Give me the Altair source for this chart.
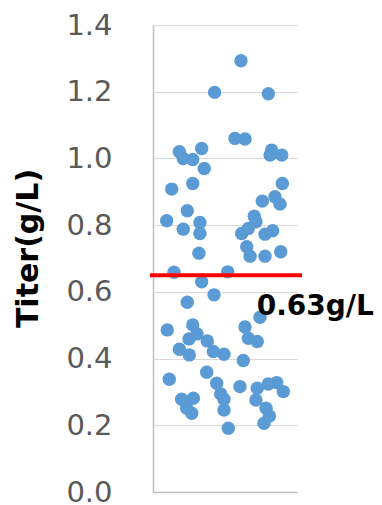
import altair as alt
import pandas as pd

# jitter position (0-1 across the column) and titer values (g/L)
jitter = [0.611, 0.428, 0.801, 0.569, 0.639, 0.183, 0.210, 0.276, 0.338, 0.356,
          0.824, 0.813, 0.894, 0.130, 0.276, 0.898, 0.238, 0.095, 0.210, 0.326,
          0.326, 0.759, 0.847, 0.882, 0.703, 0.715, 0.662, 0.616, 0.778, 0.831,
          0.651, 0.674, 0.778, 0.887, 0.319, 0.146, 0.519, 0.338, 0.424, 0.238,
          0.743, 0.099, 0.276, 0.639, 0.250, 0.306, 0.377, 0.183, 0.252, 0.419,
          0.493, 0.662, 0.724, 0.627, 0.113, 0.373, 0.442, 0.470, 0.493, 0.493,
          0.604, 0.199, 0.280, 0.234, 0.269, 0.523, 0.724, 0.801, 0.859, 0.905,
          0.715, 0.785, 0.808, 0.771]
titer = [1.293, 1.198, 1.194, 1.060, 1.058, 1.020, 1.000, 0.997, 1.030, 0.970,
         1.025, 1.010, 1.010, 0.908, 0.925, 0.925, 0.843, 0.813, 0.788, 0.808,
         0.775, 0.872, 0.885, 0.863, 0.827, 0.810, 0.790, 0.775, 0.773, 0.783,
         0.735, 0.707, 0.707, 0.720, 0.716, 0.659, 0.660, 0.630, 0.591, 0.569,
         0.524, 0.486, 0.501, 0.495, 0.459, 0.474, 0.453, 0.428, 0.411, 0.421,
         0.413, 0.461, 0.451, 0.394, 0.338, 0.359, 0.326, 0.294, 0.278, 0.246,
         0.316, 0.278, 0.281, 0.251, 0.236, 0.191, 0.311, 0.324, 0.328, 0.301,
         0.276, 0.251, 0.228, 0.206]

ref_value = [0.65]
ref_start = [-0.021]
ref_end = [1.035]
label_text = ["0.63g/L"]
label_x = [0.72]
label_y = [0.531]
y_ticks = [0.0, 0.2, 0.4, 0.6, 0.8, 1.0, 1.2, 1.4]

points = pd.DataFrame({"x": jitter, "y": titer})
ref = pd.DataFrame({"x": ref_start, "x2": ref_end, "y": ref_value})
lab = pd.DataFrame({"x": label_x, "y": label_y, "t": label_text})

xscale = alt.Scale(domain=[0, 1], nice=False, zero=False)
yscale = alt.Scale(domain=[0, 1.4], nice=False)

pts = alt.Chart(points).mark_circle(size=180, opacity=1, color="#5B9BD5").encode(
    x=alt.X("x:Q", scale=xscale,
            axis=alt.Axis(labels=False, ticks=False, grid=False, title=None,
                          domainColor="#BFBFBF", domainWidth=1.5)),
    y=alt.Y("y:Q", scale=yscale,
            axis=alt.Axis(values=y_ticks, format=".1f", title="Titer(g/L)",
                          labelFont="DejaVu Sans", labelFontSize=29,
                          labelColor="#595959", labelPadding=41, ticks=False,
                          domainColor="#BFBFBF", domainWidth=1.5,
                          gridColor="#D9D9D9", gridWidth=1,
                          titleFont="DejaVu Sans", titleFontSize=30,
                          titleFontWeight="bold", titleColor="black",
                          titleX=-125, titleY=223, titleAngle=270,
                          titleAlign="center", titleBaseline="middle")),
)

rule = alt.Chart(ref).mark_rule(color="#FF0000", strokeWidth=4).encode(
    x="x:Q", x2="x2:Q", y="y:Q"
)

text = alt.Chart(lab).mark_text(
    align="left", baseline="alphabetic", font="DejaVu Sans",
    fontSize=28, fontWeight="bold", color="black"
).encode(x="x:Q", y="y:Q", text="t:N")

chart = alt.layer(pts, rule, text).properties(
    width=144, height=467,
    autosize=alt.AutoSizeParams(type="none"),
    padding={"left": 145, "top": 17, "right": 77, "bottom": 12},
).configure_view(stroke=None)

chart.save("out.html", embed_options={"renderer": "svg", "actions": False})
